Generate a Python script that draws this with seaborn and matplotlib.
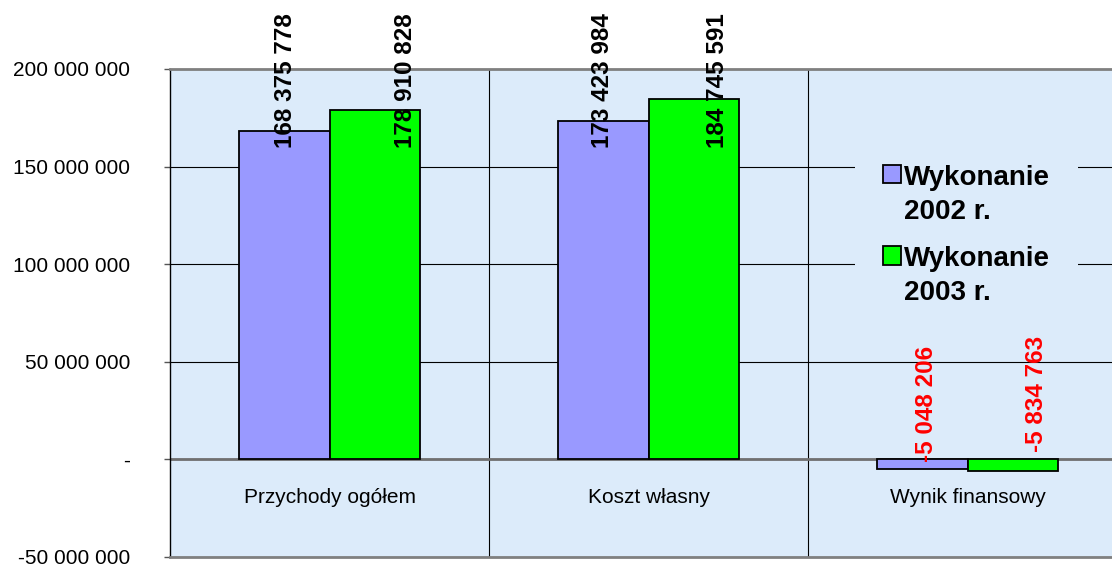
import matplotlib
matplotlib.use("Agg")
import matplotlib.pyplot as plt
import matplotlib.transforms as mtransforms
from matplotlib.patches import Rectangle
from matplotlib.legend_handler import HandlerPatch
from matplotlib.ticker import FuncFormatter, FixedLocator
import pandas as pd
import seaborn as sns

# --- data ---------------------------------------------------------------
categories = ["Przychody ogółem", "Koszt własny", "Wynik finansowy"]
series_names = ["Wykonanie\n2002 r.", "Wykonanie\n2003 r."]
values_2002 = [168375778, 173423984, -5048206]
values_2003 = [178910828, 184745591, -5834763]
y_ticks = [-50000000, 0, 50000000, 100000000, 150000000, 200000000]

df = pd.DataFrame({
    "kategoria": categories * 2,
    "seria": [series_names[0]] * 3 + [series_names[1]] * 3,
    "wartosc": values_2002 + values_2003,
})

# --- style --------------------------------------------------------------
sns.set_style("white")
plt.rcParams["font.family"] = ["Liberation Sans", "DejaVu Sans"]
plt.rcParams["text.color"] = "black"
plt.rcParams["ytick.labelcolor"] = "black"
plt.rcParams["xtick.labelcolor"] = "black"

BG = "#dcebfa"
PURPLE = "#9999ff"
GREEN = "#00ff00"

fig = plt.figure(figsize=(11.12, 5.67), dpi=100)
ax = fig.add_axes([170 / 1112, 10 / 567, 957 / 1112, 488 / 567])
ax.set_facecolor(BG)

sns.barplot(data=df, x="kategoria", y="wartosc", hue="seria",
            palette=[PURPLE, GREEN], saturation=1, width=0.57,
            edgecolor="black", linewidth=1.3, ax=ax, zorder=3)

ax.set_xlim(-0.5, 2.5)
ax.set_ylim(y_ticks[0], y_ticks[-1])
ax.set_xlabel("")
ax.set_ylabel("")

# y axis: spaced thousands, dash for zero
def fmt(v, _):
    if v == 0:
        return "-"
    return f"{v:,.0f}".replace(",", " ")

ax.yaxis.set_major_locator(FixedLocator(y_ticks))
ax.yaxis.set_major_formatter(FuncFormatter(fmt))
ax.tick_params(axis="y", left=True, length=4.5, width=1, color="#555555",
               labelcolor="black", pad=24, labelsize=15)
ax.tick_params(axis="x", bottom=False, labelbottom=False)

# grid
ax.set_axisbelow(True)
ax.yaxis.grid(True, color="black", linewidth=0.8)
for xv in (0.5, 1.5):
    ax.axvline(xv, color="black", linewidth=0.8, zorder=1)
ax.axhline(0, color="#707070", linewidth=2, zorder=2)

for side in ("top", "bottom"):
    ax.spines[side].set_color("#808080")
    ax.spines[side].set_linewidth(2)
ax.spines["left"].set_color("black")
ax.spines["left"].set_linewidth(1)
ax.spines["right"].set_visible(False)

# category names inside the plot, below the zero line
blend = mtransforms.blended_transform_factory(ax.transData, ax.transAxes)
for i, name in enumerate(categories):
    ax.text(i, 0.121, name, transform=blend, ha="center", va="center",
            fontsize=15, color="black")

# value labels, rotated
def spaced(v):
    return f"{v:,.0f}".replace(",", " ")

label_dx = [(-0.139, 0.237), (-0.143, 0.216), (-0.130, 0.216)]
for i in range(3):
    for j, vals in enumerate((values_2002, values_2003)):
        v = vals[i]
        x = i + label_dx[i][j]
        if v >= 0:
            ax.text(x, 1.1148, spaced(v), transform=blend, rotation=90,
                    ha="center", va="top", fontsize=17.5,
                    fontweight="bold", color="black", clip_on=False,
                    zorder=5)
        else:
            y_off = (-1.5e6, 3.6e6)[j]
            ax.text(x, y_off, spaced(v), rotation=90, ha="center",
                    va="bottom", fontsize=17.5, fontweight="bold",
                    color="red", zorder=5)

# legend: square key aligned with the first line of each entry
def square_key(legend, orig_handle, xdescent, ydescent, width, height,
               fontsize):
    return Rectangle((-xdescent, -ydescent + 0.76 * fontsize), width, height)

handles, labels = ax.get_legend_handles_labels()
if ax.get_legend() is not None:
    ax.get_legend().remove()
leg = ax.legend(handles, labels, loc="upper left",
                bbox_to_anchor=(855 / 1112, 1 - 137 / 567),
                bbox_transform=fig.transFigure,
                prop={"size": 20, "weight": "bold"},
                handlelength=0.65, handleheight=0.65, handletextpad=0.12,
                labelspacing=0.75, borderpad=1.0, borderaxespad=0,
                frameon=True, facecolor=BG, edgecolor="none", framealpha=1,
                fancybox=False,
                handler_map={Rectangle: HandlerPatch(patch_func=square_key)})
for t in leg.get_texts():
    t.set_linespacing(1.42)
    t.set_color("black")
for h in leg.legend_handles:
    h.set_edgecolor("black")
    h.set_linewidth(1.3)

fig.savefig("out.png", dpi=100)
